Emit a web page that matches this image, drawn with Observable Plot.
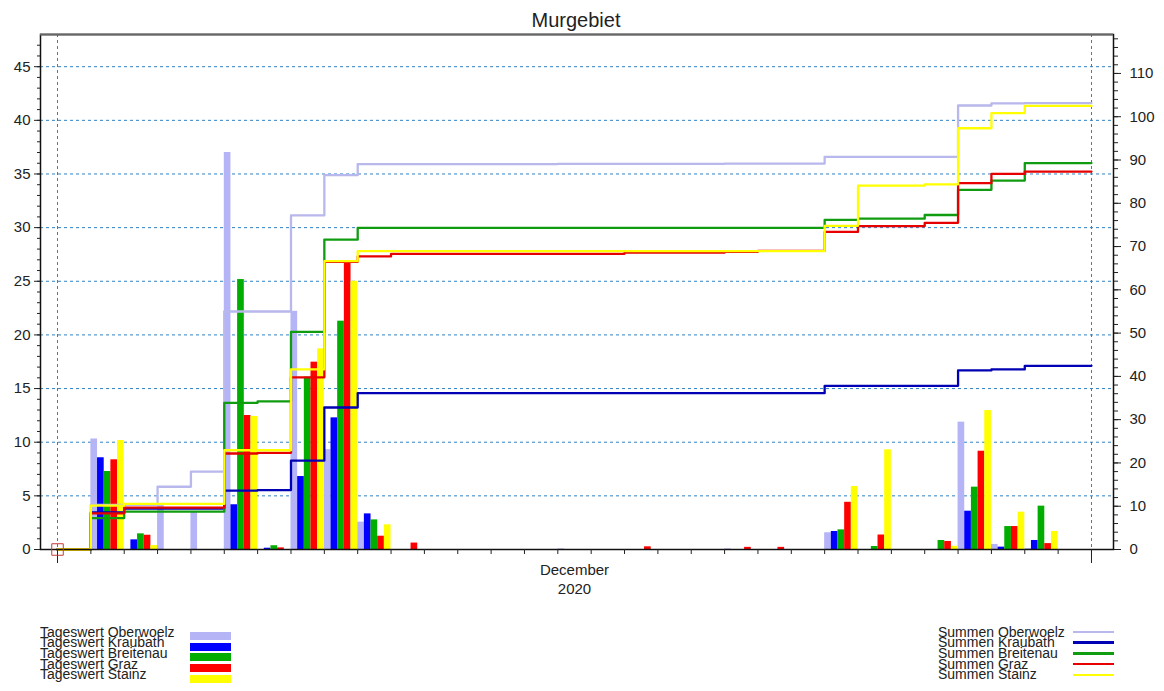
<!DOCTYPE html>
<html><head><meta charset="utf-8">
<script src="https://cdn.jsdelivr.net/npm/d3@7"></script>
<script src="https://cdn.jsdelivr.net/npm/@observablehq/plot@0.6"></script>
<style>
html,body{margin:0;padding:0;background:#fff;}
#wrap{position:relative;width:1164px;height:691px;overflow:hidden;font-family:'Liberation Sans',Arial,sans-serif;color:#222;}
#chart{position:absolute;left:0;top:0;z-index:1;}
#title{position:absolute;left:0;width:1152px;top:10px;text-align:center;font-size:20px;line-height:20px;z-index:2;}
.lg{position:absolute;font-size:14px;line-height:14px;white-space:nowrap;z-index:2;}
.sw{position:absolute;z-index:2;}
</style></head><body>
<div id="wrap"><div id="chart"></div><div id="title"></div></div>
<script>
// ---- data ----
const title = "Murgebiet";
const days = d3.range(1, 32); // 1..31 December 2020
const stations = ["Oberwoelz", "Kraubath", "Breitenau", "Graz", "Stainz"];
const barPrefix = "Tageswert ";
const linePrefix = "Summen ";
const barColors = ["#b4b4f6", "#0000ff", "#00ad00", "#ff0000", "#ffff00"];
const lineColors = ["#b8b8ec", "#0000b4", "#109c10", "#e60000", "#ffff00"];

//                 1     2     3    4    5     6     7     8      9     10    11   12 13 14 15  16   17  18  19 20  21    22   23   24    25   26   27    28     29    30   31
const oberwoelz = [0, 10.3,  0,   4.2, 3.5, 37.0,  0,   22.2,  9.3,  2.55, 0,   0, 0, 0, 0, 0.06, 0, 0,    0, 0, 0.06, 0,   0, 1.56, 0,    0, 0,    11.87, 0.47, 0.08, 0];
const kraubath  = [0, 8.55,  0.9, 0,   0,   4.17,  0.12, 6.8,  12.27, 3.32, 0,   0, 0, 0, 0, 0,    0, 0,    0, 0, 0,    0,   0, 1.68, 0,    0, 0,    3.57,  0.22, 0.84, 0];
const breitenau = [0, 7.27,  1.46,0,   0,   25.16, 0.35, 16.06,21.28, 2.76, 0,   0, 0, 0, 0, 0,    0, 0,    0, 0, 0,    0,   0, 1.83, 0.28, 0, 0.84, 5.81,  2.14, 4.04, 0];
const graz      = [0, 8.36,  1.33,0,   0,   12.49, 0.15, 17.46,26.7,  1.24, 0.6, 0, 0, 0, 0, 0,    0, 0.25, 0, 0, 0.2,  0.2, 0, 4.4,  1.35, 0, 0.75, 9.16,  2.14, 0.55, 0];
const stainz    = [0, 10.16, 0.37,0,   0,   12.4,  0,    18.7, 25.0,  2.3,  0,   0, 0, 0, 0, 0,    0, 0,    0, 0, 0,    0,   0, 5.87, 9.29, 0, 0.3,  12.95, 3.48, 1.68, 0];
const series = [oberwoelz, kraubath, breitenau, graz, stainz];

const leftTicks = d3.range(0, 46, 5);
const leftMinor = d3.range(0, 48, 1);
const rightTicks = d3.range(0, 111, 10);
const rightMinor = d3.range(0, 119, 2);
const gridValues = d3.range(5, 46, 5);
const monthLabel = "December\n2020";
const monthEdges = [0, 31];
const yMax = 48, rightMax = 119;
const K = rightMax / yMax;           // right axis (sums) per left axis unit
const xDomain = [-0.51, 31.66];

// ---- derived tables ----
const n = stations.length;
const bars = series.map((vals, i) => days.map((d, j) => ({
  x1: d - 1 + i / n, x2: d - 1 + (i + 1) / n, v: vals[j]
})).filter(b => b.v > 0));
const sums = series.map(vals => {
  const c = Array.from(d3.cumsum(vals));
  const pts = days.map((d, j) => ({x: d - 1, y: c[j] / K}));
  pts.push({x: days.length, y: c[c.length - 1] / K});
  return pts;
});

const grid = {stroke: "#2f82c4", strokeDasharray: "3,3", strokeWidth: 1};
const noText = () => "";

const chart = Plot.plot({
  width: 1164, height: 610,
  marginTop: 34, marginBottom: 61, marginLeft: 40, marginRight: 51,
  x: {domain: xDomain, label: null},
  y: {domain: [0, yMax], label: null},
  style: {fontFamily: "'Liberation Sans', Arial, sans-serif", fontSize: "15px", background: "white", color: "#222"},
  marks: [
    Plot.ruleY(gridValues, grid),
    Plot.ruleX(monthEdges, grid),
    ...bars.map((b, i) => Plot.rectY(b, {x1: "x1", x2: "x2", y: "v", fill: barColors[i]})),
    ...sums.map((s, i) => Plot.line(s, {x: "x", y: "y", curve: "step-after", stroke: lineColors[i], strokeWidth: 2.3})),
    Plot.frame({stroke: "#111", strokeWidth: 1.5}),
    Plot.ruleY([yMax], {stroke: "#666", strokeWidth: 2}),
    Plot.axisY(leftTicks, {anchor: "left", tickSize: 6, tickPadding: 4, label: null, fill: "#222"}),
    Plot.axisY(leftMinor, {anchor: "left", tickSize: 3, tickFormat: noText, label: null}),
    Plot.axisY(rightTicks.map(v => v / K), {anchor: "right", tickSize: 7, tickPadding: 9, tickFormat: v => String(Math.round(v * K)), label: null, fill: "#222"}),
    Plot.axisY(rightMinor.map(v => v / K), {anchor: "right", tickSize: 4, tickFormat: noText, label: null}),
    Plot.axisX(d3.range(0, 32), {tickSize: 5, tickFormat: noText, label: null}),
    Plot.axisX(monthEdges, {tickSize: 14, tickFormat: noText, label: null}),
    Plot.axisX([15.5], {tickSize: 0, tickPadding: 12, tickFormat: () => monthLabel, lineHeight: 1.27, label: null, fill: "#222"}),
    Plot.dot(sums[0].slice(0, 1), {x: "x", y: "y", symbol: "square", r: 6.5, stroke: "#c83c3c", fill: "none", strokeWidth: 1})
  ]
});
document.getElementById("chart").appendChild(chart);
document.getElementById("title").textContent = title;

// ---- legends ----
const wrap = document.getElementById("wrap");
stations.forEach((s, i) => {
  const t = document.createElement("div");
  t.className = "lg"; t.textContent = barPrefix + s;
  t.style.left = "40px"; t.style.top = (624.8 + i * 10.65) + "px";
  wrap.appendChild(t);
  const sw = document.createElement("div");
  sw.className = "sw"; sw.style.left = "190px"; sw.style.width = "41px";
  sw.style.top = (631.7 + i * 10.85) + "px"; sw.style.height = "8px"; sw.style.background = barColors[i];
  wrap.appendChild(sw);

  const t2 = document.createElement("div");
  t2.className = "lg"; t2.textContent = linePrefix + s;
  t2.style.left = "938px"; t2.style.top = (624.8 + i * 10.65) + "px";
  wrap.appendChild(t2);
  const ln = document.createElement("div");
  ln.className = "sw"; ln.style.left = "1073px"; ln.style.width = "41px";
  ln.style.top = (630.5 + i * 10.75) + "px"; ln.style.height = "2.5px"; ln.style.background = lineColors[i];
  wrap.appendChild(ln);
});
</script>
</body></html>
